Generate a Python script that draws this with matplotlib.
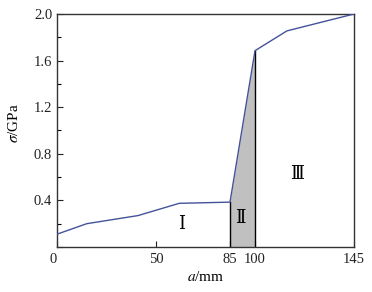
import numpy as np
import matplotlib
matplotlib.use('Agg')
import matplotlib.pyplot as plt
from matplotlib.ticker import MultipleLocator

plt.rcParams['font.family'] = ['Liberation Serif', 'DejaVu Serif']
plt.rcParams['mathtext.fontset'] = 'stix'

# curve
a_mm      = [0, 15, 41, 61, 85, 100, 114.5, 145]
sigma_gpa = [0.11, 0.20, 0.27, 0.375, 0.385, 1.685, 1.855, 2.0]

xticks      = [0, 50, 85, 100, 145]
xticklabels = ['0', '50', '85', '100', '145']
yticks      = [0, 0.4, 0.8, 1.2, 1.6, 2.0]
yticklabels = ['', '0.4', '0.8', '1.2', '1.6', '2.0']

zone_names = ['\u2160', '\u2161', '\u2162']
zone_x     = [62, 91, 119]
zone_y     = [0.20, 0.25, 0.63]

# the original axis is slightly uneven between ticks
anch_d = np.array([0, 50, 85, 100, 145], dtype=float)
anch_p = np.array([0, 99, 173, 198, 297], dtype=float)
def fwd(v):
  return np.interp(v, anch_d, anch_p)
def inv(v):
  return np.interp(v, anch_p, anch_d)

fig = plt.figure(figsize=(3.72, 2.92), dpi=100)
ax = fig.add_axes((57/372, 45/292, 297/372, 233/292))
ax.set_xscale('function', functions=(fwd, inv))

ax.plot(a_mm, sigma_gpa, color='#44529a', lw=1.0, zorder=3)

# shaded zone II
xs = np.linspace(85, 100, 50)
ax.fill_between(xs, 0, np.interp(xs, a_mm, sigma_gpa), color='#c0c0c0', zorder=1, lw=0)
for xv in (85, 100):
  ax.plot([xv, xv], [0, np.interp(xv, a_mm, sigma_gpa)], color='black', lw=1.0, zorder=2)

for t, x, y in zip(zone_names, zone_x, zone_y):
  ax.text(x, y, t, ha='center', va='center', fontsize=13,
          family=['DejaVu Serif', 'Liberation Serif'])

ax.set_xlim(0, 145)
ax.set_ylim(0, 2.0)
ax.set_xticks(xticks)
ax.set_xticklabels(xticklabels)
ax.get_xticklabels()[0].set_horizontalalignment('right')
ax.set_yticks(yticks)
ax.set_yticklabels(yticklabels)
ax.yaxis.set_minor_locator(MultipleLocator(0.2))
ax.tick_params(direction='in', labelsize=10.5, length=4, width=0.8, colors='#222222')
ax.tick_params(which='minor', direction='in', length=3, width=0.8)
ax.tick_params(axis='x', pad=4)
for s in ax.spines.values():
  s.set_linewidth(1.0)
  s.set_color('#333333')

ax.set_xlabel(r'$a$/mm', fontsize=11)
ax.set_ylabel(r'$\sigma$/GPa', fontsize=11)
ax.xaxis.set_label_coords(0.5, -0.10)
ax.yaxis.set_label_coords(-0.12, 0.53)

fig.savefig('out.png', dpi=100)
plt.close(fig)
